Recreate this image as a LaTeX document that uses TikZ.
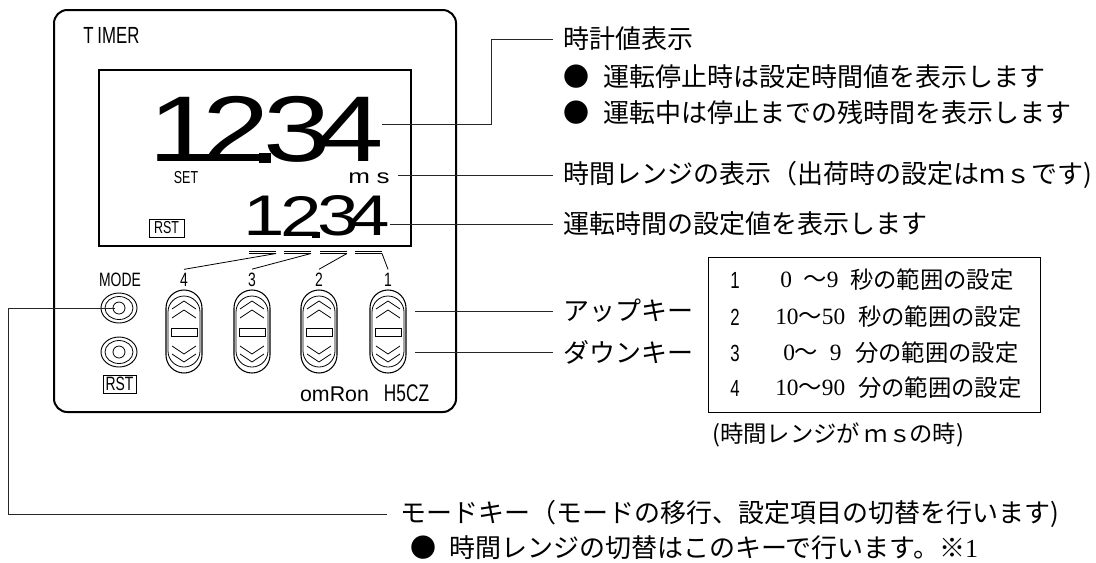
\documentclass[tikz,border=0pt]{standalone}
\usepackage{fontspec}
\usepackage{tikz}
\usetikzlibrary{shapes.geometric}
\setmainfont{Noto Sans CJK JP}
\newfontfamily\numfont{Liberation Serif}
\newfontfamily\wideface[FakeStretch=1.3]{Liberation Sans}
\newfontfamily\narrowface[FakeStretch=0.72]{Liberation Sans}

\begin{document}
\begin{tikzpicture}[x=0.75pt, y=-0.75pt,
  note/.style={anchor=west, inner sep=0pt, font=\fontsize{19.5}{22}\selectfont},
  rownote/.style={anchor=west, inner sep=0pt, font=\fontsize{17.5}{20}\selectfont},
  tag/.style={inner sep=0pt, font=\fontsize{14.5}{16}\selectfont\narrowface},
  smalltag/.style={inner sep=0pt, font=\fontsize{13}{14}\selectfont\narrowface},
  line/.style={line width=0.6pt, black!85}]
\useasboundingbox (0,0) rectangle (1096,562);

\draw[line width=1.5pt, rounded corners=10pt] (54,10) rectangle (456,412);
\draw[line width=0.8pt] (99,70) rectangle (411,246);
\node[tag, anchor=west, font=\fontsize{17.5}{18}\selectfont\narrowface] (timer) at (83,35) {T\,IMER};

\foreach \d/\xx in {1/182,2/236,3/297,4/350}
  \node[inner sep=0pt, font=\fontsize{70}{70}\selectfont\wideface] (big\d) at (\xx,129) {\d};
\fill (259,153) rectangle (271,163);
\foreach \d/\xx in {1/264,2/301,3/338,4/369}
  \node[inner sep=0pt, font=\fontsize{43}{43}\selectfont\wideface] (low\d) at (\xx,216) {\d};
\fill (312,232) rectangle (320,238);

\node[smalltag] (settag) at (186,178) {SET};
\node[inner sep=0pt, font=\fontsize{15}{16}\selectfont\wideface] (mstag) at (369,178) {m\,\,s};
\node[draw, smalltag, minimum width=35*0.75pt, minimum height=18*0.75pt, line width=0.5pt] (rsttop) at (166.5,228) {RST};

\foreach \x/\n in {184/4,252/3,319/2,388/1} {
  \node[tag, outer sep=3pt] (key\n) at (\x,280) {\n};
  \draw[line width=0.8pt, rounded corners=13.5pt] (\x-18,290) rectangle (\x+18,373);
  \draw[line width=0.6pt, rounded corners=12pt] (\x-16,296) rectangle (\x+16,367);
  \draw[line width=0.6pt] (\x-13,328) rectangle (\x+13,336);
  \draw[line width=0.6pt] (\x-12,309) -- (\x,301) -- (\x+12,309);
  \draw[line width=0.6pt] (\x-12,318) -- (\x,310) -- (\x+12,318);
  \draw[line width=0.6pt] (\x-12,346) -- (\x,354) -- (\x+12,346);
  \draw[line width=0.6pt] (\x-12,354) -- (\x,362) -- (\x+12,354);
}

\foreach \xa/\xb/\n in {249/276/4,284/311/3,320/347/2,355/382/1} {
  \draw[line width=0.6pt] (\xa,251) -- (\xb,251);
  \draw[line width=0.6pt] (\xa,253.5) -- (\xb,253.5);
  \coordinate (bar\n) at (\xb,253.5);
  \draw[line width=0.6pt] (bar\n) -- (key\n.north);
}

\node[tag] (modetag) at (120,280) {MODE};
\foreach \n/\yy in {mode/308,rst/352} {
  \node[draw, ellipse, minimum width=36*0.75pt, minimum height=30*0.75pt, inner sep=0pt, line width=0.7pt] (\n out) at (119,\yy) {};
  \node[draw, ellipse, minimum width=28*0.75pt, minimum height=23*0.75pt, inner sep=0pt, line width=0.6pt] (\n mid) at (119,\yy) {};
  \node[draw, circle, minimum size=12*0.75pt, inner sep=0pt, line width=0.6pt] (\n in) at (119,\yy) {};
}
\node[draw, tag, minimum width=33*0.75pt, minimum height=18*0.75pt, line width=0.5pt] (rstbot) at (119.5,384) {RST};
\node[inner sep=0pt, font=\fontsize{16}{18}\selectfont\sffamily] (brand) at (334.5,394) {\fontspec{Liberation Sans}omRon};
\node[tag, font=\fontsize{18}{20}\selectfont\narrowface] (model) at (406.5,393) {H5CZ};

\node[note, outer sep=7.5pt] (clock) at (553,39) {時計値表示};
\node[note] (clocka) at (563,77) {●\hspace{10.5pt}運転停止時は設定時間値を表示します};
\node[note] (clockb) at (563,112) {●\hspace{10.5pt}運転中は停止までの残時間を表示します};
\node[note, outer sep=7.5pt] (range) at (553,175) {時間レンジの表示（出荷時の設定はｍｓです)};
\node[note, outer sep=7.5pt] (setval) at (553,224) {運転時間の設定値を表示します};
\node[note, outer sep=7.5pt] (upkey) at (553,311) {アップキー};
\node[note, outer sep=7.5pt] (downkey) at (553,352) {ダウンキー};
\node[note, outer sep=9.75pt] (modekey) at (387,514) {モードキー（モードの移行、設定項目の切替を行います)};
\node[note] (modenote) at (410,548) {●\hspace{9.75pt}時間レンジの切替はこのキーで行います。※{\numfont 1}};

\coordinate (bigpt) at (382,124);
\coordinate (bend) at (491,39);
\coordinate (mspt) at (398,175);
\coordinate (lowpt) at (390,224);
\coordinate (uppt) at (415,311);
\coordinate (downpt) at (415,352);
\coordinate (modept) at (115,308);
\coordinate (modebend) at (8.5,514);

\draw[line] (bigpt) -| (bend) -- (clock.west);
\draw[line] (mspt) -- (range.west);
\draw[line] (lowpt) -- (setval.west);
\draw[line] (uppt) -- (upkey.west);
\draw[line] (downpt) -- (downkey.west);
\draw[line] (modept) -| (modebend) -- (modekey.west);

\node[draw, minimum width=332*0.75pt, minimum height=155*0.75pt, inner sep=0pt, line width=0.7pt] (rangebox) at (874,334.5) {};
\foreach \n/\yy/\xr/\rng/\xu/\unit in {
  1/280/780/{{\numfont 0\hphantom{0}}～{\numfont 9}}/850/秒,
  2/317/775/{{\numfont 10}～{\numfont 50}}/858/秒,
  3/353/783/{{\numfont 0}～{\numfont\hphantom{0}9}}/855/分,
  4/388/775/{{\numfont 10}～{\numfont 90}}/858/分} {
  \node[tag, font=\fontsize{17.5}{20}\selectfont\narrowface] (num\n) at (735,\yy) {\n};
  \node[rownote] (rng\n) at (\xr,\yy) {\rng};
  \node[rownote] (unit\n) at (\xu,\yy) {\unit の範囲の設定};
}
\node[rownote] (rangenote) at (712,435) {(時間レンジが\hspace{3pt}ｍ\hspace{1pt}ｓ\hspace{-2pt}の時)};
\end{tikzpicture}
\end{document}
